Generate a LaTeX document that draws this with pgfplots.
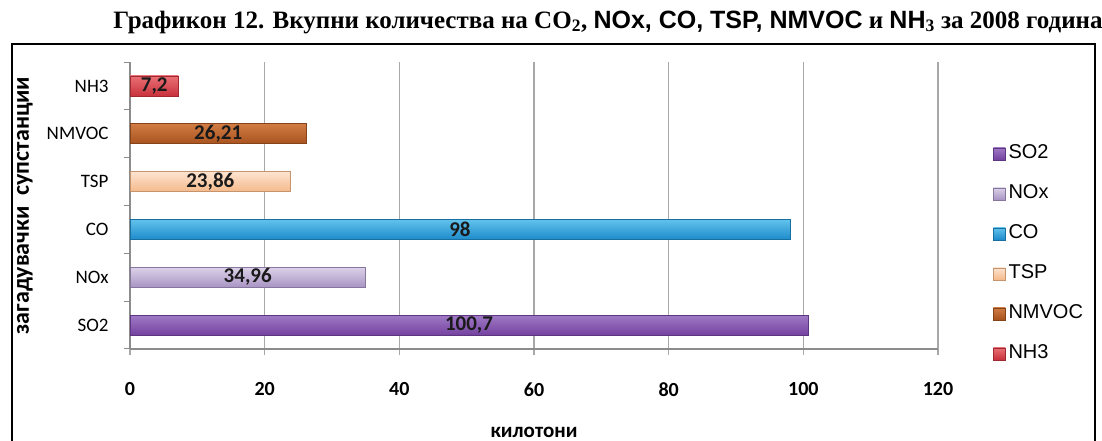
\documentclass[border=0pt]{standalone}
\usepackage{pgfplots}
\pgfplotsset{compat=1.18}
\usepackage{fontspec}
\setmainfont{Liberation Serif}
\newfontfamily\calfont{Carlito}
\newfontfamily\arialfont{Liberation Sans}
\definecolor{so2}{HTML}{7442A0}\definecolor{so2l}{HTML}{A07AC6}
\definecolor{nox}{HTML}{A894C4}\definecolor{noxl}{HTML}{DCD2E8}
\definecolor{co}{HTML}{1E8BCB}\definecolor{col}{HTML}{62C2EC}
\definecolor{tsp}{HTML}{F5B98A}\definecolor{tspl}{HTML}{FDE4D0}
\definecolor{nmvoc}{HTML}{A8521E}\definecolor{nmvocl}{HTML}{D27C44}
\definecolor{nh}{HTML}{C8323C}\definecolor{nhl}{HTML}{EA7076}
\definecolor{gridgray}{HTML}{A8A8A8}
\definecolor{axisgray}{HTML}{8C8C8C}
\definecolor{labtext}{HTML}{1A1A1A}
\pgfplotsset{mybar/.style={xbar, bar width=20bp, bar shift=0pt, line width=0.6bp,
  legend image code/.code={\path[##1, line width=0.4bp] (0bp,-6bp) rectangle (12bp,6bp);}}}
\begin{document}
\begin{tikzpicture}
\path[use as bounding box] (0,0) rectangle (1102bp,441bp);
\draw[line width=2bp] (12bp,-20bp) rectangle (1095bp,397bp);
\node[font=\bfseries\fontsize{25bp}{28bp}\selectfont, inner sep=0pt] at (608bp,419bp)
  {Графикон 12. Вкупни количества на CO\textsubscript{2}, {\arialfont\bfseries NOx, CO, TSP, NMVOC} и {\arialfont\bfseries NH}\textsubscript{3} за 2008 година};
\begin{axis}[at={(130bp,92bp)}, anchor=south west, scale only axis,
  width=808bp, height=287bp,
  xmin=0, xmax=120, ymin=-0.5, ymax=5.5,
  xtick={0,20,...,120}, ytick={0,...,5},
  yticklabels={SO2,NOx,CO,TSP,NMVOC,NH3},
  /pgf/number format/assume math mode=true,
  axis lines*=left,
  axis line style={draw=axisgray, line width=1.5bp},
  xmajorgrids, grid style={draw=gridgray, line width=1.5bp},
  tick align=outside, major tick length=6bp,
  xtick style={draw=gridgray, line width=1.5bp},
  ytick style={draw=none},
  extra y ticks={-0.5,0.5,...,5.5}, extra y tick labels={},
  extra y tick style={ytick style={draw=axisgray, line width=1bp}},
  xticklabel style={font=\calfont\bfseries\fontsize{20bp}{22bp}\selectfont, yshift=-24bp},
  yticklabel style={font=\calfont\fontsize{19bp}{21bp}\selectfont, xshift=-12bp},
  xlabel={килотони},
  xlabel style={font=\calfont\bfseries\fontsize{21bp}{23bp}\selectfont, at={(axis description cs:0.5,-0.289)}, anchor=center},
  ylabel={загадувачки\ \ супстанции},
  ylabel style={font=\calfont\bfseries\fontsize{24bp}{26bp}\selectfont, at={(axis description cs:-0.130,0.5)}, anchor=center},
  legend style={at={(axis description cs:1.068,0.716)}, anchor=north west, draw=none, fill=none,
    inner sep=0pt, row sep=20bp, font=\arialfont\fontsize{20bp}{22bp}\selectfont,
    nodes={inner sep=1bp, text height=14bp, text depth=4bp},
    /tikz/every odd column/.append style={column sep=2bp}},
  legend cell align=left,
]
\addplot[mybar, draw=so2!80!black, top color=so2l, bottom color=so2] coordinates {(100.7,0)};
\addplot[mybar, draw=nox!80!black, top color=noxl, bottom color=nox] coordinates {(34.96,1)};
\addplot[mybar, draw=co!80!black, top color=col, bottom color=co] coordinates {(98,2)};
\addplot[mybar, draw=tsp!80!black, top color=tspl, bottom color=tsp] coordinates {(23.86,3)};
\addplot[mybar, draw=nmvoc!80!black, top color=nmvocl, bottom color=nmvoc] coordinates {(26.21,4)};
\addplot[mybar, draw=nh!80!black, top color=nhl, bottom color=nh] coordinates {(7.2,5)};
\legend{SO2,NOx,CO,TSP,NMVOC,NH3}
\addplot[forget plot, only marks, mark=none, nodes near coords, point meta=explicit symbolic,
  nodes near coords style={anchor=center, font=\calfont\bfseries\fontsize{21bp}{22bp}\selectfont, text=labtext}]
  table[meta=lab, row sep=\\] {
  x y lab\\
  50.35 0 100,7\\
  17.48 1 34,96\\
  49 2 98\\
  11.93 3 23,86\\
  13.105 4 26,21\\
  3.6 5 7,2\\
};
\end{axis}
\end{tikzpicture}
\end{document}
